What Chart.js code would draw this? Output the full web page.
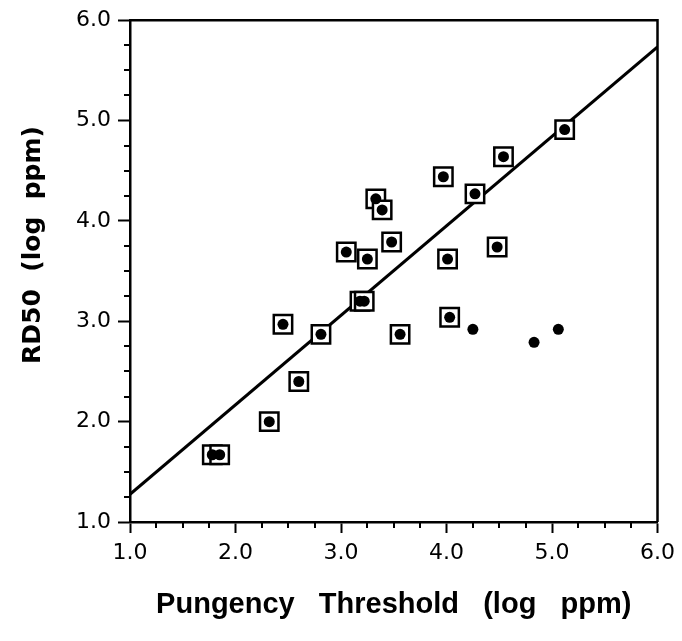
<!DOCTYPE html>
<html>
<head>
<meta charset="utf-8">
<script src="https://cdn.jsdelivr.net/npm/chart.js@4.4.0/dist/chart.umd.min.js"></script>
<style>
  html, body { margin: 0; padding: 0; background: #fff; }
  #wrap { width: 682px; height: 641px; }
</style>
</head>
<body>
<div id="wrap"><canvas id="chart"></canvas></div>
<script>
// values (log ppm)
const pungencyThreshold = [1.78, 1.85, 2.32, 2.45, 2.60, 2.81, 3.05, 3.18, 3.22, 3.25, 3.33, 3.39,
                           3.48, 3.56, 3.97, 4.01, 4.03, 4.25, 4.27, 4.48, 4.54, 4.83, 5.06, 5.12];
const rd50 = [1.67, 1.67, 2.00, 2.97, 2.40, 2.87, 3.69, 3.20, 3.20, 3.62, 4.22, 4.11,
              3.79, 2.87, 4.44, 3.62, 3.04, 2.92, 4.27, 3.74, 4.64, 2.79, 2.92, 4.91];
// true = compound drawn with a box around its dot
const boxed = [true, true, true, true, true, true, true, true, true, true, true, true,
               true, true, true, true, true, false, true, true, true, false, false, true];

// regression line ends
const fitX = [1.0, 6.0];
const fitY = [1.276, 5.734];

const axisMin = 1, axisMax = 6, majorStep = 1, minorStep = 0.25;

const dots = pungencyThreshold.map((x, i) => ({x: x, y: rd50[i]}));
const boxes = dots.filter((d, i) => boxed[i]);
const fitLine = fitX.map((x, i) => ({x: x, y: fitY[i]}));

// minor ticks and the top/right frame
const frame = {
  id: 'frame',
  afterDraw(chart) {
    const {ctx, chartArea: a, scales: {x, y}} = chart;
    ctx.save();
    ctx.strokeStyle = '#000';
    ctx.lineWidth = 2.5;
    ctx.beginPath();
    ctx.moveTo(a.left, a.top);
    ctx.lineTo(a.right, a.top);
    ctx.lineTo(a.right, a.bottom);
    ctx.stroke();
    ctx.lineWidth = 2;
    ctx.beginPath();
    for (let v = axisMin + minorStep; v < axisMax; v += minorStep) {
      if (Math.abs(v - Math.round(v)) < 1e-6) continue;
      const px = Math.round(x.getPixelForValue(v));
      ctx.moveTo(px, a.bottom);
      ctx.lineTo(px, a.bottom + 6);
      const py = Math.round(y.getPixelForValue(v));
      ctx.moveTo(a.left, py);
      ctx.lineTo(a.left - 6, py);
    }
    ctx.stroke();
    ctx.restore();
  }
};

const tickFont = {family: 'DejaVu Sans', size: 22};

new Chart(document.getElementById('chart'), {
  type: 'scatter',
  data: {
    datasets: [
      {
        label: 'dots',
        data: dots,
        pointStyle: 'circle',
        pointRadius: 5.5,
        pointBorderWidth: 0,
        backgroundColor: '#000',
        borderColor: '#000',
        order: 0
      },
      {
        label: 'boxes',
        data: boxes,
        pointStyle: 'rect',
        pointRadius: 13,
        pointBorderWidth: 2.5,
        backgroundColor: '#fff',
        borderColor: '#000',
        order: 1
      },
      {
        type: 'line',
        label: 'fit',
        data: fitLine,
        borderColor: '#000',
        borderWidth: 3,
        pointRadius: 0,
        fill: false,
        order: 2
      }
    ]
  },
  options: {
    responsive: true,
    maintainAspectRatio: false,
    animation: false,
    events: [],
    layout: {padding: {top: 18, right: 23, left: 0, bottom: 0}},
    plugins: {
      legend: {display: false},
      tooltip: {enabled: false}
    },
    scales: {
      x: {
        type: 'linear',
        min: axisMin,
        max: axisMax,
        afterFit(s) { s.height = 119; },
        border: {color: '#000', width: 2.5},
        grid: {drawOnChartArea: false, drawTicks: true, tickLength: 11, tickWidth: 2, tickColor: '#000'},
        ticks: {
          stepSize: majorStep,
          color: '#000',
          font: tickFont,
          padding: 7,
          maxRotation: 0,
          callback: v => v.toFixed(1)
        },
        title: {
          display: true,
          text: 'Pungency   Threshold   (log   ppm)',
          color: '#000',
          font: {family: 'Liberation Sans', size: 29, weight: 'bold'},
          padding: {top: 0, bottom: 19}
        }
      },
      y: {
        type: 'linear',
        min: axisMin,
        max: axisMax,
        afterFit(s) { s.width = 130; },
        border: {color: '#000', width: 2.5},
        grid: {drawOnChartArea: false, drawTicks: true, tickLength: 12, tickWidth: 2, tickColor: '#000'},
        ticks: {
          stepSize: majorStep,
          color: '#000',
          font: tickFont,
          padding: 7,
          callback: v => v.toFixed(1)
        },
        title: {
          display: true,
          text: '      RD50  (log  ppm)',
          color: '#000',
          font: {family: 'DejaVu Sans', size: 25, weight: 'bold'},
          padding: {top: 18, bottom: 0}
        }
      }
    }
  },
  plugins: [frame]
});
</script>
</body>
</html>
